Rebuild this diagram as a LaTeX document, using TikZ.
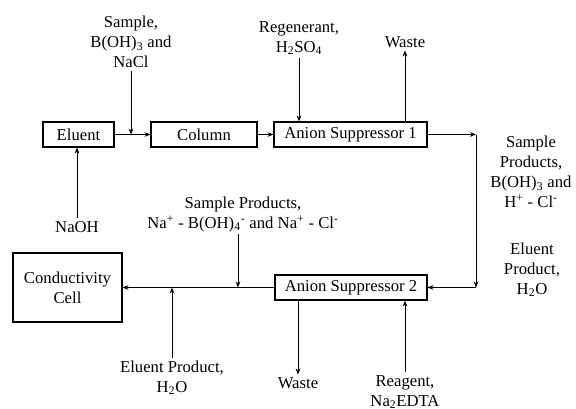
\documentclass[tikz,border=0pt]{standalone}
\usepackage{fontspec}
\setmainfont{Liberation Serif}
\usetikzlibrary{arrows.meta}

\begin{document}
\begin{tikzpicture}[x=0.75pt,y=-0.75pt,
		every node/.style={font=\fontsize{12.5}{15}\selectfont},
		unit/.style={draw,thick,inner sep=0pt,minimum height=18.75pt},
		lbl/.style={align=center,inner sep=2pt},
		flow/.style={semithick,-{Stealth[length=4.5pt,width=3.5pt]}}]
		\useasboundingbox (0,0) rectangle (576,408);
		% units
		\node[unit,minimum width=53.25pt] (eluent) at (78.5,134.5) {Eluent};
		\node[unit,minimum width=79.5pt] (column) at (204,134.5) {Column};
		\node[unit,minimum width=114.75pt] (sup1) at (350.5,134.5) {Anion Suppressor 1};
		\node[unit,minimum width=114pt] (sup2) at (351,287.5) {Anion Suppressor 2};
		\node[unit,minimum width=81.75pt,minimum height=51.75pt,align=center] (cell) at (67.5,287.5) {Conductivity\\Cell};
		% labels
		\node[lbl] (sample) at (131,42) {Sample,\\B(OH)\textsubscript{3} and\\NaCl};
		\node[lbl] (regen) at (299,38) {Regenerant,\\H\textsubscript{2}SO\textsubscript{4}};
		\node[lbl] (wasteA) at (405,42) {Waste};
		\node[lbl] (naoh) at (77,227) {NaOH};
		\node[lbl] (sprod) at (243,214) {Sample Products,\\Na\textsuperscript{+} - B(OH)\textsubscript{4}\textsuperscript{-} and Na\textsuperscript{+} - Cl\textsuperscript{-}};
		\node[lbl] (sprodR) at (531,172) {Sample\\Products,\\B(OH)\textsubscript{3} and\\H\textsuperscript{+} - Cl\textsuperscript{-}};
		\node[lbl] (eprodR) at (532,270) {Eluent\\Product,\\H\textsubscript{2}O};
		\node[lbl] (eprod) at (172,378) {Eluent Product,\\H\textsubscript{2}O};
		\node[lbl] (wasteB) at (298,383) {Waste};
		\node[lbl] (reagent) at (405,392) {Reagent,\\Na\textsubscript{2}EDTA};
		% junctions
		\coordinate (c1) at (476,134.5);
		\coordinate (c2) at (476,287.5);
		\coordinate (j2) at (238,287.5);
		% main flow
		\draw[flow] (eluent) -- (column);
		\draw[flow] (column) -- (sup1);
		\draw[flow] (sup1) -- (c1);
		\draw[flow] (c1) -- (c2);
		\draw[flow] (c2) -- (sup2);
		\draw[flow] (sup2) -- (cell);
		% side streams
		\draw[flow] (sample.south) -- (sample.south |- eluent.east);
		\draw[flow] (regen.south) -- (regen.south |- sup1.north);
		\draw[flow] (wasteA.south |- sup1.north) -- (wasteA.south);
		\draw[flow] (naoh.north) -- (naoh.north |- eluent.south);
		\draw[flow] (j2 |- sprod.south) -- (j2);
		\draw[flow] (eprod.north) -- (eprod.north |- cell.east);
		\draw[flow] (wasteB.north |- sup2.south) -- (wasteB.north);
		\draw[flow] (reagent.north) -- (reagent.north |- sup2.south);
\end{tikzpicture}
\end{document}
